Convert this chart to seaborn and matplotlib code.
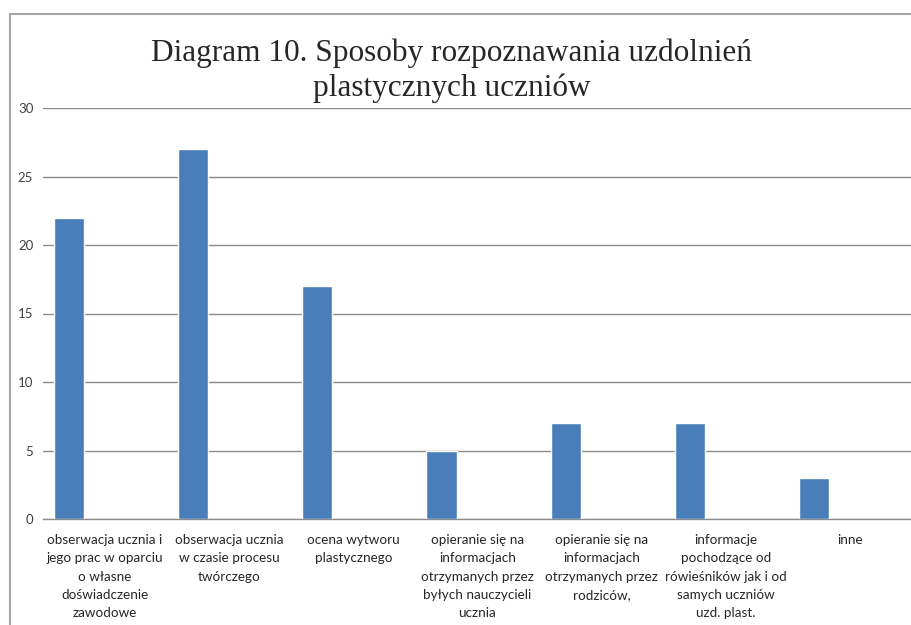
import numpy as np
import pandas as pd
import matplotlib
matplotlib.use('Agg')
import matplotlib.pyplot as plt
import seaborn as sns
from matplotlib.patches import Rectangle

# dane z wykresu
kategorie = [
    'obserwacja ucznia i\njego prac w oparciu\no własne\ndoświadczenie\nzawodowe',
    'obserwacja ucznia\nw czasie procesu\ntwórczego',
    'ocena wytworu\nplastycznego',
    'opieranie się na\ninformacjach\notrzymanych przez\nbyłych nauczycieli\nucznia',
    'opieranie się na\ninformacjach\notrzymanych przez\nrodziców,',
    'informacje\npochodzące od\nrówieśników jak i od\nsamych uczniów\nuzd. plast.',
    'inne',
]
wartosci = [22, 27, 17, 5, 7, 7, 3]
y_ticks = [0, 5, 10, 15, 20, 25, 30]
tytul = 'Diagram 10. Sposoby rozpoznawania uzdolnień\nplastycznych uczniów'

sns.set_style('white')
plt.rcParams['font.family'] = ['Lato', 'DejaVu Sans']

fig = plt.figure(figsize=(9.12, 6.25), dpi=100)
ax = fig.add_axes([43 / 912, 1 - 519 / 625, 1 - 43 / 912, (519 - 108) / 625])

# slupek przesuniety w lewo w kategorii (jak w Excelu)
idx = np.arange(len(wartosci))
df = pd.DataFrame({'x': idx - 0.29, 'y': wartosci})
sns.barplot(data=df, x='x', y='y', native_scale=True, width=0.242,
            color='#4A7EBB', saturation=1, ax=ax, zorder=3)

ax.set_xlim(-0.5, len(wartosci) - 0.5)
ax.set_ylim(0, 30)
ax.set_yticks(y_ticks)
ax.set_yticklabels([str(v) for v in y_ticks], fontsize=9.5, color='#404040')
ax.set_xticks(idx)
ax.set_xticklabels(kategorie, fontsize=9.7, color='#262626', linespacing=1.62)
ax.tick_params(axis='both', length=0)
ax.tick_params(axis='x', pad=11)
ax.tick_params(axis='y', pad=7)
ax.set_xlabel('')
ax.set_ylabel('')

# linie siatki
ax.yaxis.grid(True, color='#8c8c8c', linewidth=1, zorder=0)
ax.set_axisbelow(True)
for s in ['left', 'right', 'top']:
    ax.spines[s].set_visible(False)
ax.spines['bottom'].set_color('#8c8c8c')
ax.spines['bottom'].set_linewidth(1)

# tytul
fig.text(452 / 912, 1 - 39 / 625, tytul, ha='center', va='top',
         fontsize=22.5, family='Liberation Serif', color='#262626', linespacing=1.22)

# ramka wykresu
ramka = Rectangle((10 / 912, -0.1), 1.2, 1 - 14 / 625 + 0.1, transform=fig.transFigure,
                  fill=False, edgecolor='#a6a6a6', linewidth=1.5)
fig.patches.append(ramka)

fig.savefig('out.png', dpi=100)
